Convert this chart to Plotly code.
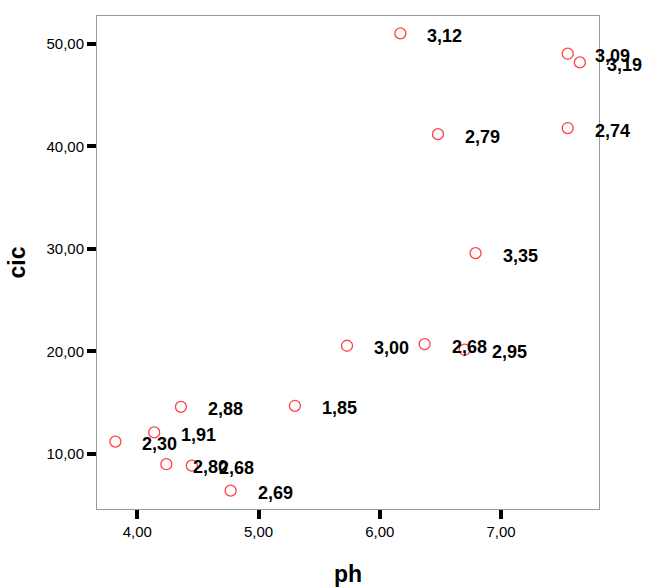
import plotly.graph_objects as go

# pH vs. cic observations, each point tagged with its value label
ph = [6.17, 7.55, 7.65, 6.48, 7.55, 6.79, 5.73, 6.37, 6.70,
      4.36, 5.30, 4.14, 3.82, 4.24, 4.45, 4.77]
cic = [51.04, 49.05, 48.2, 41.2, 41.8, 29.6, 20.56, 20.72, 20.17,
       14.6, 14.7, 12.1, 11.2, 9.0, 8.86, 6.42]
point_labels = ["3,12", "3,09", "3,19", "2,79", "2,74", "3,35", "3,00", "2,68", "2,95",
                "2,88", "1,85", "1,91", "2,30", "2,80", "2,68", "2,69"]

x_ticks = [4, 5, 6, 7]
x_ticktext = ["4,00", "5,00", "6,00", "7,00"]
y_ticks = [10, 20, 30, 40, 50]
y_ticktext = ["10,00", "20,00", "30,00", "40,00", "50,00"]

FONT = "Liberation Sans, Arial, sans-serif"

fig = go.Figure()
fig.add_trace(go.Scatter(
    x=ph, y=cic, mode="markers",
    marker=dict(symbol="circle-open", size=11, color="#ff4040",
                line=dict(width=1.3, color="#ff4040")),
    hoverinfo="x+y", showlegend=False,
))

for xv, yv, t in zip(ph, cic, point_labels):
    fig.add_annotation(
        x=xv, y=yv, text=t, showarrow=False,
        xanchor="left", yanchor="middle", xshift=25, yshift=-2.5,
        font=dict(family=FONT, size=18, color="black", weight="bold"),
    )

axis_common = dict(
    showline=True, linecolor="#999999", linewidth=1, mirror=True,
    showgrid=False, zeroline=False, automargin=False,
    ticks="outside", ticklen=9, tickwidth=3.5, tickcolor="black",
    tickfont=dict(family=FONT, size=15, color="black"),
)

fig.update_layout(
    width=649, height=587,
    margin=dict(l=97, r=50, t=16, b=78),
    paper_bgcolor="white", plot_bgcolor="white",
    xaxis=dict(range=[3.668, 7.808], tickvals=x_ticks, ticktext=x_ticktext,
               title=dict(text="ph", standoff=28,
                          font=dict(family=FONT, size=23, color="black", weight="bold")),
               **axis_common),
    yaxis=dict(range=[4.63, 52.73], tickvals=y_ticks, ticktext=y_ticktext,
               title=dict(text="cic", standoff=14,
                          font=dict(family=FONT, size=23, color="black", weight="bold")),
               **axis_common),
)

fig.write_html("out.html")
